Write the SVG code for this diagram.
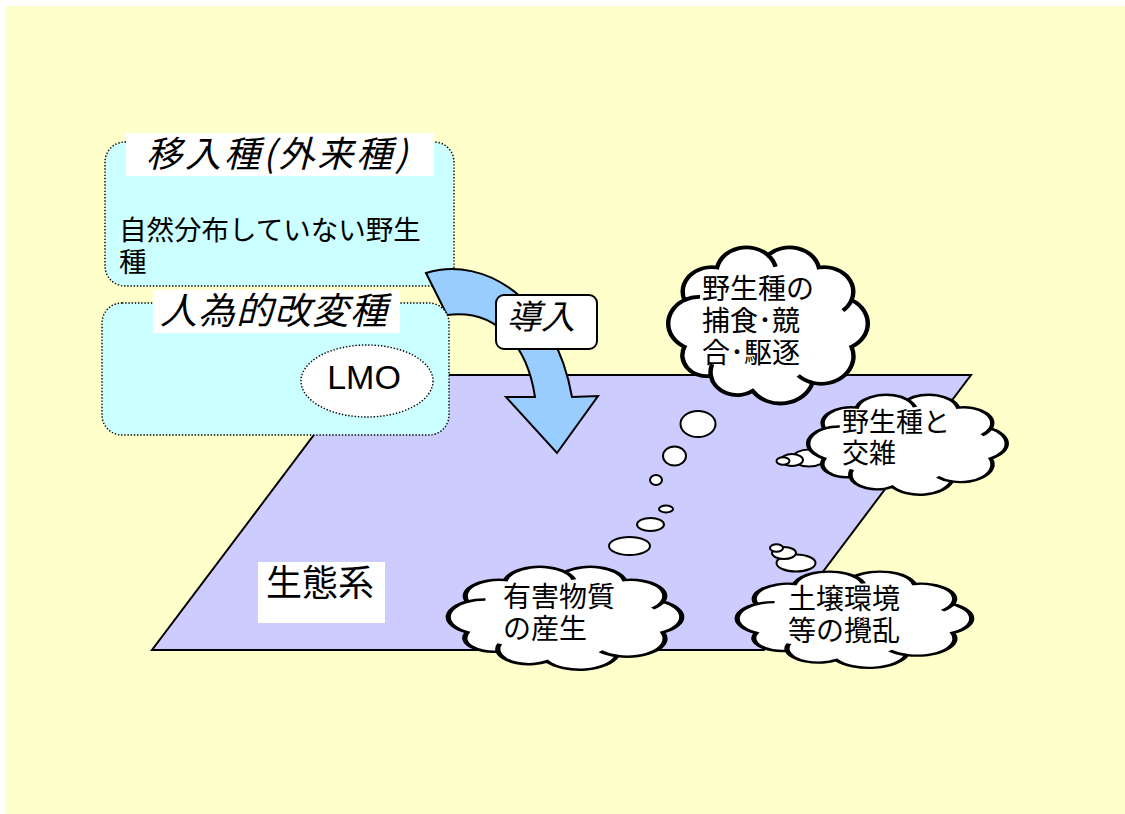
<svg xmlns="http://www.w3.org/2000/svg" width="1125" height="814" viewBox="0 0 1125 814">
<style>
.jp{font-family:"Noto Sans CJK JP","Noto Sans",sans-serif;fill:#000}
.it{font-style:italic}
.dot{fill:#CCFFFF;stroke:#000;stroke-width:1.4;stroke-dasharray:1.4 1.8}
.cl{fill:#fff;stroke:#000;stroke-width:2;vector-effect:non-scaling-stroke}
.ci{fill:none;stroke:#000;stroke-width:2;vector-effect:non-scaling-stroke}
.bub{fill:#fff;stroke:#000;stroke-width:2}
</style>
<defs>
<path id="cloud" d="M12.4,62.3 A14,14 0 0 1 12.4,37.7 A13,13 0 0 1 27.1,20.5 A13.5,13.5 0 0 1 50,14 A13.5,13.5 0 0 1 72.9,20.5 A13,13 0 0 1 87.6,37.7 A14,14 0 0 1 87.6,62.3 A14.5,14.5 0 0 1 70,81.2 A15,15 0 0 1 43.1,85.5 A12,12 0 0 1 24.3,77.6 A11,11 0 0 1 12.4,62.3 Z"/>
<path id="cloudIn" d="M12.4,37.7 A14,14 0 0 1 19.4,36 M50,14 A13.5,13.5 0 0 1 53.4,20.1 M87.6,37.7 A13,13 0 0 1 83.7,43.2 M70,81.2 A14.5,14.5 0 0 1 63.6,77.4 M24.3,77.6 A12,12 0 0 1 24.9,71.4"/>
</defs>
<rect x="0" y="0" width="1125" height="814" fill="#fff"/>
<rect x="6" y="6" width="1119" height="808" fill="#FFFFCC"/>

<g id="ecosystem">
<polygon points="359,375 971,375 764,650 152,650" fill="#CCCCFF" stroke="#000" stroke-width="2"/>
<rect x="258" y="562" width="127" height="61" fill="#fff"/>
<text class="jp" x="266" y="596" font-size="36">生態系</text>
</g>

<g id="introduced">
<rect class="dot" x="105" y="142" width="349" height="144" rx="20"/>
<rect x="126" y="133" width="308" height="43" fill="#fff"/>
<text class="jp it" x="146" y="167" font-size="36" letter-spacing="3">移入種(外来種)</text>
<text class="jp" font-size="27.5"><tspan x="119" y="239.5">自然分布していない野生</tspan><tspan x="119" y="271.5">種</tspan></text>
</g>

<g id="connectors">
<path d="M426,273 C485,255 555,300 572,397 L598,396 L557,453 L506,397 L535,397 C528,350 500,308 447,315 Z" fill="#99CCFF" stroke="#000" stroke-width="2" stroke-linejoin="miter"/>
</g>

<g id="modified">
<rect class="dot" x="102" y="303" width="347" height="132" rx="20"/>
<rect x="153" y="290" width="247" height="43" fill="#fff"/>
<text class="jp it" x="160" y="324" font-size="37" letter-spacing="1">人為的改変種</text>
<ellipse cx="367" cy="381" rx="66" ry="36" fill="#fff" stroke="#000" stroke-width="1.4" stroke-dasharray="1.4 1.8"/>
<text x="364" y="389" font-size="34" text-anchor="middle" font-family="Liberation Sans, Arial, sans-serif">LMO</text>
</g>

<g id="label-introduction">
<rect x="496" y="295" width="101" height="54" rx="8" fill="#fff" stroke="#000" stroke-width="2"/>
<text class="jp it" x="507" y="329" font-size="34">導入</text>
</g>

<g id="bubbles">
<ellipse class="bub" cx="698" cy="424" rx="17.5" ry="13"/>
<ellipse class="bub" cx="674.5" cy="456" rx="11.5" ry="9.5"/>
<ellipse class="bub" cx="656" cy="480" rx="6" ry="5"/>
<ellipse class="bub" cx="666" cy="509" rx="7" ry="3.5"/>
<ellipse class="bub" cx="650.5" cy="524.5" rx="13.5" ry="6.5"/>
<ellipse class="bub" cx="629.5" cy="546" rx="20.5" ry="9"/>
<ellipse class="bub" cx="809" cy="458" rx="16" ry="8.5"/>
<ellipse class="bub" cx="792" cy="460" rx="11" ry="6"/>
<ellipse class="bub" cx="783" cy="461" rx="6.5" ry="3.8"/>
<ellipse class="bub" cx="796" cy="563" rx="19.5" ry="8.5"/>
<ellipse class="bub" cx="784" cy="553" rx="12" ry="6"/>
<ellipse class="bub" cx="776.5" cy="548" rx="6.5" ry="3.7"/>
</g>

<g id="cloud-predation">
<g transform="translate(656.9,228.6) scale(2.222,1.898)"><use href="#cloud" class="cl"/><use href="#cloudIn" class="ci"/></g>
<text class="jp" font-size="28"><tspan x="702" y="299">野生種の</tspan><tspan x="702" y="331">捕食･競</tspan><tspan x="702" y="363">合･駆逐</tspan></text>
</g>

<g id="cloud-hybrid">
<g transform="translate(796.9,382.7) scale(2.211,1.216)"><use href="#cloud" class="cl"/><use href="#cloudIn" class="ci"/></g>
<text class="jp" font-size="27"><tspan x="842" y="432">野生種と</tspan><tspan x="842" y="463">交雑</tspan></text>
</g>

<g id="cloud-toxic">
<g transform="translate(435,554.5) scale(2.6,1.25)"><use href="#cloud" class="cl"/><use href="#cloudIn" class="ci"/></g>
<text class="jp" font-size="28"><tspan x="503" y="606.5">有害物質</tspan><tspan x="503" y="638.5">の産生</tspan></text>
</g>

<g id="cloud-soil">
<g transform="translate(723.9,560) scale(2.611,1.17)"><use href="#cloud" class="cl"/><use href="#cloudIn" class="ci"/></g>
<text class="jp" font-size="28"><tspan x="788" y="608.5">土壌環境</tspan><tspan x="788" y="640.5">等の攪乱</tspan></text>
</g>
</svg>
